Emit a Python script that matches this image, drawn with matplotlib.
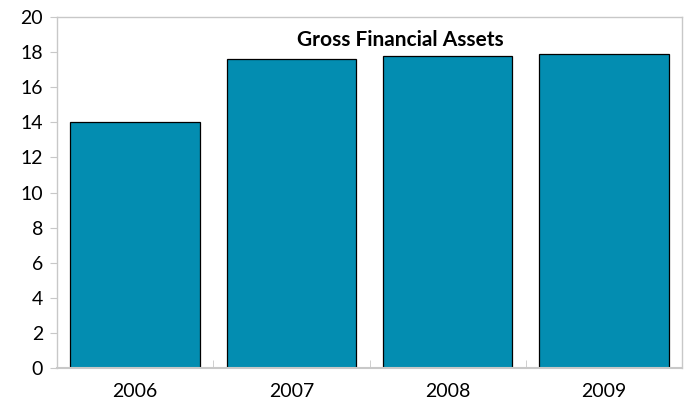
import matplotlib.pyplot as plt

years = ['2006', '2007', '2008', '2009']
assets = [14.04, 17.6, 17.79, 17.9]
y_ticks = list(range(0, 21, 2))

plt.rcParams['font.family'] = ['Lato', 'DejaVu Sans']

fig = plt.figure(figsize=(6.84, 4.09), dpi=100)
ax = fig.add_axes([57 / 684, 1 - 368 / 409, 625 / 684, 351 / 409])

x = range(len(years))
ax.bar(x, assets, width=0.83, color='#038DB1', edgecolor='black', linewidth=0.9)

ax.set_xlim(-0.5, len(years) - 0.5)
ax.set_ylim(0, 20)
ax.set_yticks(y_ticks)
ax.set_yticklabels([str(t) for t in y_ticks], fontsize=14)
ax.set_xticks(list(x))
ax.set_xticklabels(years, fontsize=14)

# category boundaries get little inward ticks
ax.set_xticks([i + 0.5 for i in range(len(years) - 1)], minor=True)
ax.tick_params(axis='x', which='major', length=0, pad=11)
ax.tick_params(axis='x', which='minor', direction='in', length=6, color='#c8c8c8')
ax.tick_params(axis='y', length=5, color='#c8c8c8', pad=5)

for side in ax.spines.values():
    side.set_color('#c8c8c8')
    side.set_linewidth(1.0)
ax.spines['bottom'].set_linewidth(1.5)

ax.text(0.55, 0.935, 'Gross Financial Assets', transform=ax.transAxes,
        ha='center', va='center', fontsize=15, fontweight='bold')

fig.savefig('out.png', dpi=100)
